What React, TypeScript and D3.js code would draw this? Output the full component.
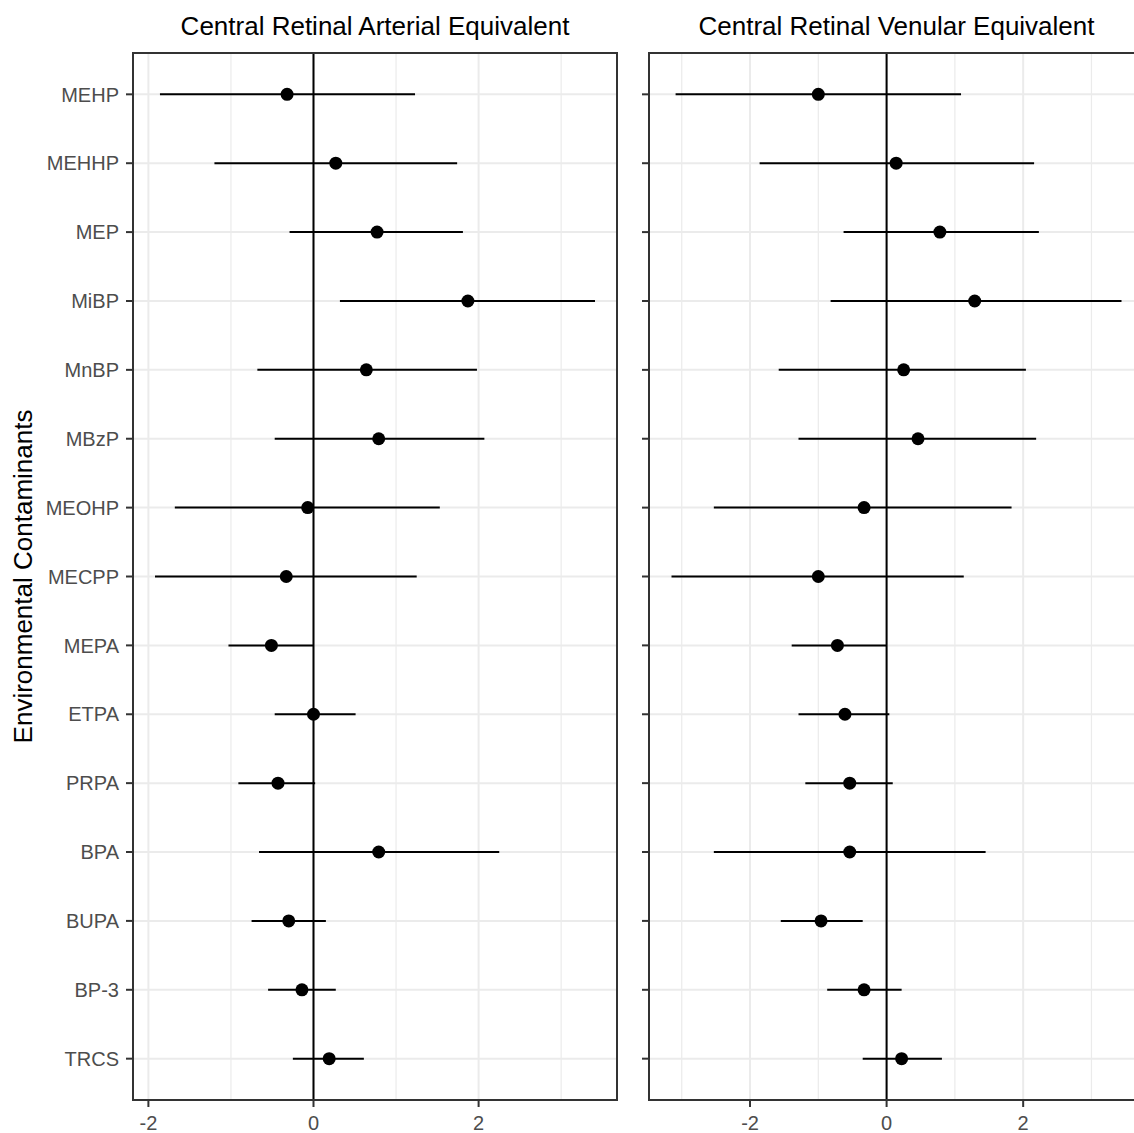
import React from 'react';
import * as d3 from 'd3';

const categories = ['MEHP', 'MEHHP', 'MEP', 'MiBP', 'MnBP', 'MBzP', 'MEOHP', 'MECPP', 'MEPA', 'ETPA', 'PRPA', 'BPA', 'BUPA', 'BP-3', 'TRCS'];

// Central Retinal Arterial Equivalent
const craeEst = [-0.32, 0.27, 0.77, 1.87, 0.64, 0.79, -0.07, -0.33, -0.51, 0.0, -0.43, 0.79, -0.30, -0.14, 0.19];
const craeLo = [-1.86, -1.20, -0.29, 0.32, -0.68, -0.47, -1.68, -1.92, -1.03, -0.47, -0.91, -0.66, -0.75, -0.55, -0.25];
const craeHi = [1.23, 1.74, 1.81, 3.41, 1.98, 2.07, 1.53, 1.25, 0.0, 0.51, 0.02, 2.25, 0.15, 0.27, 0.61];

// Central Retinal Venular Equivalent
const crveEst = [-1.0, 0.14, 0.78, 1.29, 0.25, 0.46, -0.33, -1.0, -0.72, -0.61, -0.54, -0.54, -0.96, -0.33, 0.22];
const crveLo = [-3.09, -1.86, -0.63, -0.82, -1.58, -1.29, -2.53, -3.15, -1.39, -1.29, -1.19, -2.53, -1.55, -0.87, -0.35];
const crveHi = [1.09, 2.16, 2.23, 3.44, 2.04, 2.19, 1.83, 1.13, 0.0, 0.04, 0.09, 1.45, -0.35, 0.22, 0.81];

const panelTitles = ['Central Retinal Arterial Equivalent', 'Central Retinal Venular Equivalent'];
const yTitle = 'Environmental Contaminants';

const font = '"Liberation Sans", Arial, sans-serif';

function Panel(props) {
  const { left, width, top, height, est, lo, hi, title, showLabels } = props;
  const mn = d3.min(lo), mx = d3.max(hi);
  const pad = (mx - mn) * 0.05;
  const x = d3.scaleLinear().domain([mn - pad, mx + pad]).range([left, left + width]);
  const y = d3.scalePoint().domain(categories).range([top, top + height]).padding(0.6);

  const major = x.ticks(3).filter(t => t % 2 === 0);
  const minor = d3.range(Math.ceil(x.domain()[0]), Math.floor(x.domain()[1]) + 1).filter(t => Math.abs(t % 2) === 1);

  return (
    <g>
      <clipPath id={'clip' + left}>
        <rect x={left} y={top} width={width} height={height} />
      </clipPath>
      <g clipPath={'url(#clip' + left + ')'}>
        {minor.map(t => (
          <line key={'mi' + t} x1={x(t)} x2={x(t)} y1={top} y2={top + height} stroke="#ebebeb" strokeWidth={1.2} />
        ))}
        {major.map(t => (
          <line key={'ma' + t} x1={x(t)} x2={x(t)} y1={top} y2={top + height} stroke="#ebebeb" strokeWidth={2} />
        ))}
        {categories.map(c => (
          <line key={'g' + c} x1={left} x2={left + width} y1={y(c)} y2={y(c)} stroke="#ebebeb" strokeWidth={2} />
        ))}
        <line x1={x(0)} x2={x(0)} y1={top} y2={top + height} stroke="#000" strokeWidth={2} />
        {categories.map((c, i) => (
          <g key={'e' + c}>
            <line x1={x(lo[i])} x2={x(hi[i])} y1={y(c)} y2={y(c)} stroke="#000" strokeWidth={2} />
            <circle cx={x(est[i])} cy={y(c)} r={6.5} fill="#000" />
          </g>
        ))}
      </g>
      <rect x={left} y={top} width={width} height={height} fill="none" stroke="#333" strokeWidth={2} />
      {categories.map(c => (
        <g key={'yt' + c}>
          <line x1={left - 7} x2={left} y1={y(c)} y2={y(c)} stroke="#333" strokeWidth={2} />
          {showLabels && (
            <text x={left - 14} y={y(c)} dy="0.36em" textAnchor="end" fontSize={20} fill="#4d4d4d" fontFamily={font}>{c}</text>
          )}
        </g>
      ))}
      {major.map(t => (
        <g key={'xt' + t}>
          <line x1={x(t)} x2={x(t)} y1={top + height} y2={top + height + 7} stroke="#333" strokeWidth={2} />
          <text x={x(t)} y={top + height + 30} textAnchor="middle" fontSize={20} fill="#4d4d4d" fontFamily={font}>{t < 0 ? '-' + Math.abs(t) : t}</text>
        </g>
      ))}
      <text x={left + width / 2} y={35} textAnchor="middle" fontSize={26} fill="#000" fontFamily={font}>{title}</text>
    </g>
  );
}

export default function App() {
  const W = 1134, H = 1133;
  const top = 53, height = 1047;
  return (
    <svg width={W} height={H} style={{ position: 'absolute', left: 0, top: 0, background: '#fff' }}>
      <rect width={W} height={H} fill="#fff" />
      <Panel left={133} width={484} top={top} height={height} est={craeEst} lo={craeLo} hi={craeHi} title={panelTitles[0]} showLabels={true} />
      <Panel left={649} width={495} top={top} height={height} est={crveEst} lo={crveLo} hi={crveHi} title={panelTitles[1]} showLabels={false} />
      <text transform={`translate(32,${top + height / 2}) rotate(-90)`} textAnchor="middle" fontSize={26} fill="#000" fontFamily={font}>{yTitle}</text>
    </svg>
  );
}
